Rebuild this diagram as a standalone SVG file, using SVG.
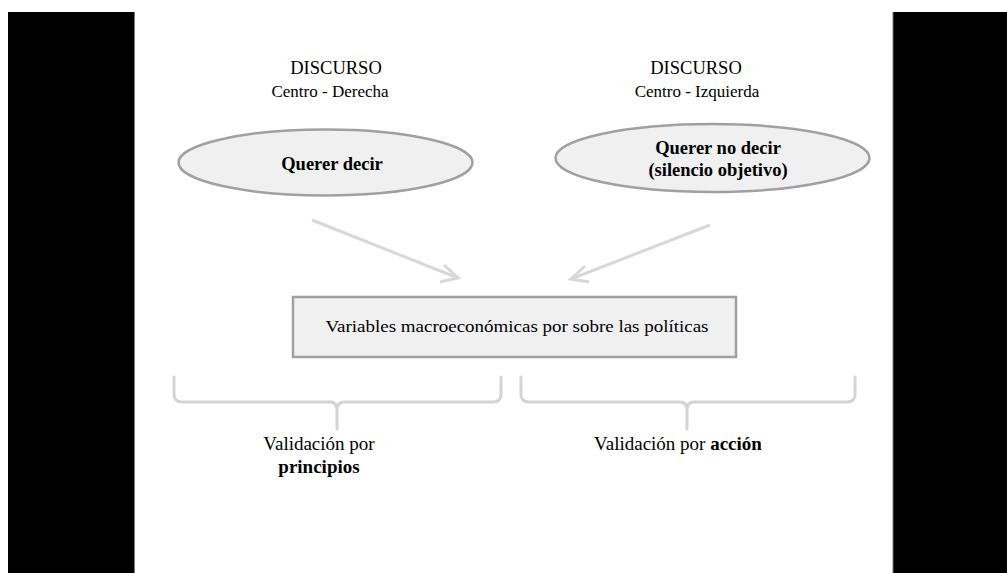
<svg xmlns="http://www.w3.org/2000/svg" width="1007" height="573" viewBox="0 0 1007 573">
<style>
.t{font-family:"Liberation Serif","Times New Roman",serif;fill:#000;text-anchor:middle}
.b{font-weight:bold}
.node{fill:#f0f0f0;stroke:#a0a0a0;stroke-width:2.5}
.conn{fill:none;stroke:#d8d8d8;stroke-width:3}
.brace{fill:none;stroke:#d4d4d4;stroke-width:3;stroke-linecap:round}
</style>
<rect x="0" y="0" width="1007" height="573" fill="#fff"/>
<rect x="8" y="12" width="126" height="561" fill="#000"/>
<line x1="134.5" y1="12" x2="134.5" y2="573" stroke="#777" stroke-width="1"/>
<rect x="893" y="12" width="114" height="561" fill="#000"/>
<line x1="893" y1="12" x2="893" y2="573" stroke="#777" stroke-width="1"/>

<g id="label-derecha">
<text class="t" x="336" y="74" font-size="18.5">DISCURSO</text>
<text class="t" x="330" y="97" font-size="17">Centro - Derecha</text>
</g>
<g id="label-izquierda">
<text class="t" x="696" y="74" font-size="18.5">DISCURSO</text>
<text class="t" x="697" y="97" font-size="17">Centro - Izquierda</text>
</g>

<g id="node-querer-decir">
<ellipse class="node" cx="325.5" cy="162.5" rx="147" ry="33"/>
<text class="t b" x="332" y="170" font-size="18.5">Querer decir</text>
</g>
<g id="node-querer-no-decir">
<ellipse class="node" cx="712.5" cy="158" rx="157" ry="34"/>
<text class="t b" x="718" y="154" font-size="18.5">Querer no decir</text>
<text class="t b" x="718" y="176" font-size="18.5">(silencio objetivo)</text>
</g>

<g id="node-variables">
<rect class="node" x="293" y="297" width="443" height="60"/>
<text class="t" x="517" y="332" font-size="17" textLength="383" lengthAdjust="spacingAndGlyphs">Variables macroeconómicas por sobre las políticas</text>
</g>

<g id="connectors">
<line class="conn" x1="312" y1="220" x2="458" y2="278"/>
<path class="conn" d="M444,265 L458,278 L440,282"/>
<line class="conn" x1="710" y1="225" x2="571" y2="279"/>
<path class="conn" d="M585,266 L571,279 L589,282"/>
</g>

<g id="brace-principios">
<path class="brace" d="M174,377 L174,394 Q174,402 182,402 L330,402 Q337,402 337,410 L337,429 M337,410 Q337,402 344,402 L493,402 Q501,402 501,394 L501,377"/>
<text class="t" x="319" y="450" font-size="19">Validación por</text>
<text class="t b" x="319" y="473" font-size="19">principios</text>
</g>
<g id="brace-accion">
<path class="brace" d="M521,377 L521,394 Q521,402 529,402 L680,402 Q687,402 687,410 L687,429 M687,410 Q687,402 694,402 L847,402 Q855,402 855,394 L855,377"/>
<text class="t" x="678" y="450" font-size="19">Validación por <tspan class="b">acción</tspan></text>
</g>
</svg>
